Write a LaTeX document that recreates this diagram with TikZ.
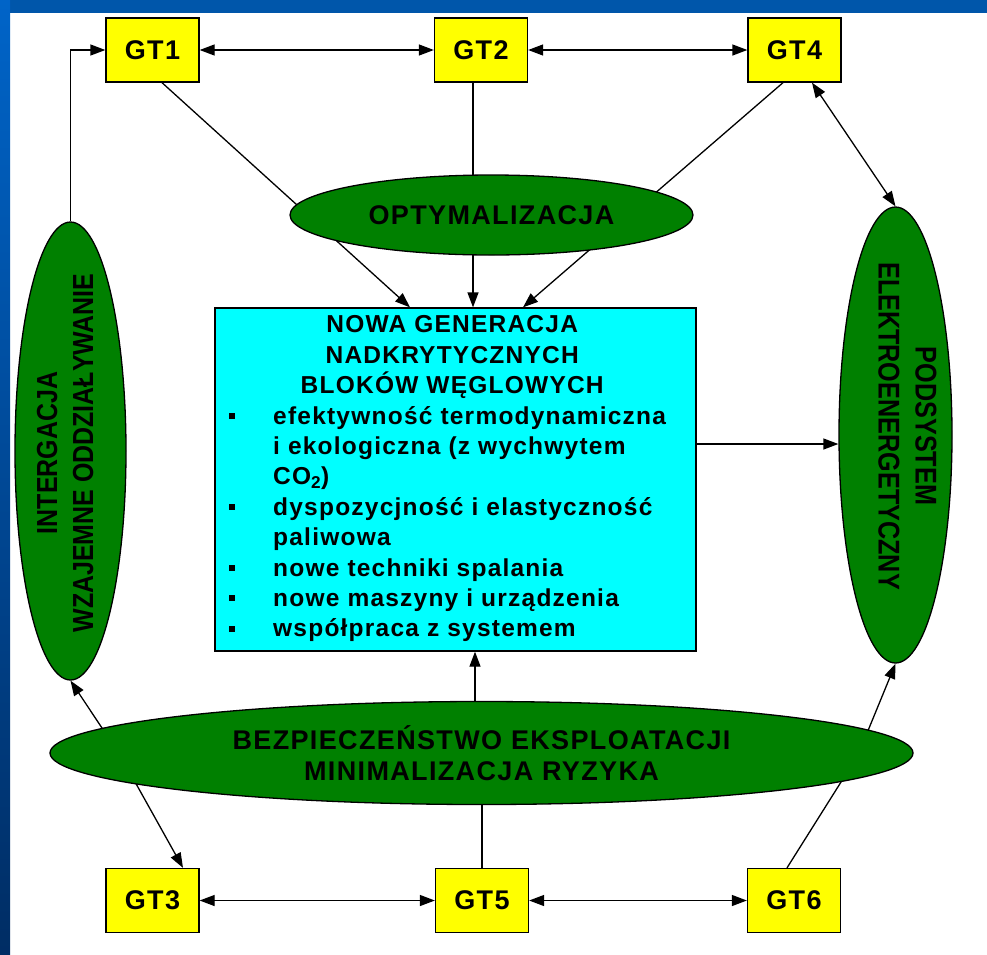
\documentclass[tikz,border=0pt]{standalone}
\usepackage{fontspec}
\setmainfont{Liberation Sans}
\newfontfamily\lblfont[LetterSpace=5]{Liberation Sans}
\newfontfamily\bodyfont[LetterSpace=5]{Liberation Sans}
\usetikzlibrary{shapes.geometric,arrows.meta,calc}
\pgfdeclarelayer{bgfill}
\pgfdeclarelayer{background}
\pgfsetlayers{bgfill,background,main}

\definecolor{gtyellow}{RGB}{255,255,0}
\definecolor{ellgreen}{RGB}{0,128,0}
\definecolor{boxcyan}{RGB}{0,255,255}
\definecolor{bandblue}{RGB}{0,86,170}
\definecolor{bandtop}{RGB}{0,100,200}
\definecolor{bandbot}{RGB}{0,45,100}

\newcommand\blt{\makebox[44pt][l]{\raisebox{5pt}{\rule{6pt}{6pt}}}}
\newcommand\nob{\hspace*{44pt}}

\begin{document}
\begin{tikzpicture}[x=1pt,y=-1pt,
  gtbox/.style={draw=black, line width=1.3pt, fill=gtyellow, minimum width=93pt,
    minimum height=64pt, inner sep=0pt, font=\lblfont\bfseries\fontsize{27}{30}\selectfont},
  greenell/.style={ellipse, draw=black, line width=1.3pt, fill=ellgreen, inner sep=0pt,
    font=\lblfont\bfseries\fontsize{27}{31}\selectfont, align=center},
  rottext/.style={inner sep=0pt, font=\bfseries\fontsize{29}{36}\selectfont},
  conn/.style={line width=1.3pt, draw=black},
  arr/.style={conn, -{Triangle[length=15pt,width=11pt]}},
  darr/.style={conn, {Triangle[length=15pt,width=11pt]}-{Triangle[length=15pt,width=11pt]}}]

\useasboundingbox (0,0) rectangle (987,954);

\begin{pgfonlayer}{bgfill}
  \fill[white] (0,0) rectangle (987,954);
  \fill[bandblue] (0,0) rectangle (987,12.5);
  \shade[top color=bandtop, bottom color=bandbot] (0,0) rectangle (10,954);
\end{pgfonlayer}

% boxes
\node[gtbox] (gt1) at (152.5,50) {GT1};
\node[gtbox] (gt2) at (481,50) {GT2};
\node[gtbox] (gt4) at (794.5,50) {GT4};
\node[gtbox] (gt3) at (152.5,900.5) {GT3};
\node[gtbox] (gt5) at (482,900.5) {GT5};
\node[gtbox] (gt6) at (794,900.5) {GT6};

% central box
\node[draw=black, line width=1.3pt, fill=boxcyan, minimum width=481pt, minimum height=343pt,
  inner sep=0pt] (ng) at (455.5,479.5) {};
\node[anchor=north west, inner sep=0pt, font=\bodyfont\bfseries\fontsize{24.5}{30.4}\selectfont]
  (ngtext) at (229,315.5) {\parbox[t]{446pt}{%
  {\centering NOWA GENERACJA\\NADKRYTYCZNYCH\\BLOKÓW WĘGLOWYCH\par}
  \raggedright
  \blt efektywność termodynamiczna\\
  \nob i ekologiczna (z wychwytem\\
  \nob CO\textsubscript{2})\\
  \blt dyspozycjność i elastyczność\\
  \nob paliwowa\\
  \blt nowe techniki spalania\\
  \blt nowe maszyny i urządzenia\\
  \blt współpraca z systemem}};

% ellipses
\node[greenell, minimum width=403pt, minimum height=80pt] (opt) at (491.5,215) {OPTYMALIZACJA};
\node[greenell, minimum width=863pt, minimum height=103pt] (bz) at (481.5,753)
  {BEZPIECZEŃSTWO EKSPLOATACJI\\MINIMALIZACJA RYZYKA};
\node[greenell, minimum width=111pt, minimum height=458pt] (ie) at (70.5,451) {};
\node[rottext, rotate=90] (ietext) at (68,453)
  {\scalebox{0.86}[1]{\begin{tabular}{@{}c@{}}INTERGACJA\\WZAJEMNE ODDZIAŁYWANIE\end{tabular}}};
\node[greenell, minimum width=113pt, minimum height=456pt] (pe) at (895.5,435) {};
\node[rottext, rotate=-90, font=\bfseries\fontsize{30}{37}\selectfont] (petext) at (904.5,426)
  {\scalebox{0.84}[1]{\begin{tabular}{@{}c@{}}PODSYSTEM\\ELEKTROENERGETYCZNY\end{tabular}}};

\coordinate (kl) at (120,755);
\coordinate (kr) at (858,755);

% connectors
\begin{pgfonlayer}{background}
  \draw[arr] (ie.north) |- (gt1.west);
  \draw[darr] (gt1.east) -- (gt2.west);
  \draw[darr] (gt2.east) -- (gt4.west);
  \draw[arr] ([xshift=9.5pt]gt1.south) -- ([xshift=-45.5pt]ng.north);
  \draw[arr] ([xshift=-8pt]gt2.south) -- ([xshift=-8pt]gt2.south |- ng.north);
  \draw[arr] ([xshift=-11.5pt]gt4.south) -- ([xshift=67.5pt]ng.north);
  \draw[darr] ([xshift=17.5pt]gt4.south) -- (pe.north);
  \draw[arr] ([yshift=35.5pt]ng.east) -- ([yshift=35.5pt]ng.east -| pe.west);
  \draw[arr] ([xshift=-6.5pt]bz.north) -- ([xshift=-6.5pt]bz.north |- ng.south);
  \draw[conn] (gt5.north) -- (gt5.north |- bz.south);
  \draw[darr] (gt3.east) -- (gt5.west);
  \draw[darr] (gt5.east) -- (gt6.west);
  \draw[darr] ([xshift=30.5pt]gt3.north) -- (kl) -- (ie.south);
  \draw[arr] ([xshift=-7pt]gt6.north) -- (kr) -- (pe.south);
\end{pgfonlayer}
\end{tikzpicture}
\end{document}
